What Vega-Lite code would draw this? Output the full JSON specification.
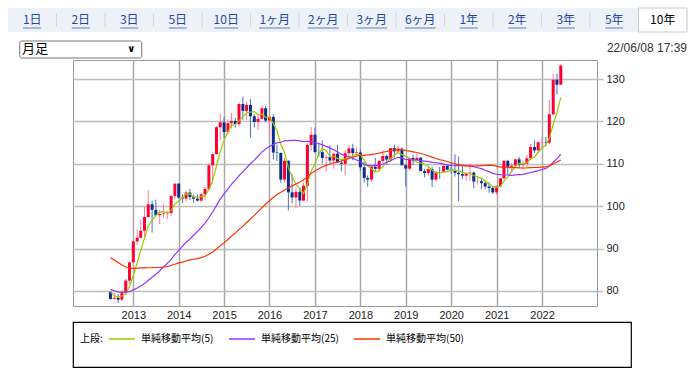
{
  "$schema": "https://vega.github.io/schema/vega-lite/v6.json",
  "padding": {"left": 7, "top": 7, "right": 0, "bottom": 0},
  "spacing": 0,
  "config": {
    "font": "Liberation Sans",
    "view": {"stroke": null}
  },
  "datasets": {
    "tabs": [
      {"tab": "1日"}, {"tab": "2日"}, {"tab": "3日"}, {"tab": "5日"}, {"tab": "10日"},
      {"tab": "1ヶ月"}, {"tab": "2ヶ月"}, {"tab": "3ヶ月"}, {"tab": "6ヶ月"},
      {"tab": "1年"}, {"tab": "2年"}, {"tab": "3年"}, {"tab": "5年"}, {"tab": "10年", "sel": true}
    ],
    "fx": [
      {"date": "2012-07-01", "open": 79.77, "high": 79.95, "low": 77.94, "close": 78.12, "ma5": 79.79, "ma25": 80.36, "ma50": 87.85},
      {"date": "2012-08-01", "open": 78.12, "high": 79.66, "low": 78.05, "close": 78.38, "ma5": 78.90, "ma25": 80.04, "ma50": 87.29},
      {"date": "2012-09-01", "open": 78.38, "high": 79.22, "low": 77.13, "close": 77.95, "ma5": 78.52, "ma25": 79.79, "ma50": 86.69},
      {"date": "2012-10-01", "open": 77.95, "high": 80.30, "low": 77.60, "close": 79.77, "ma5": 78.80, "ma25": 79.64, "ma50": 86.11},
      {"date": "2012-11-01", "open": 79.77, "high": 82.84, "low": 79.03, "close": 82.45, "ma5": 79.33, "ma25": 79.72, "ma50": 85.64},
      {"date": "2012-12-01", "open": 82.45, "high": 86.80, "low": 81.70, "close": 86.75, "ma5": 81.06, "ma25": 79.84, "ma50": 85.40},
      {"date": "2013-01-01", "open": 86.75, "high": 91.74, "low": 86.55, "close": 91.70, "ma5": 83.72, "ma25": 80.26, "ma50": 85.33},
      {"date": "2013-02-01", "open": 91.70, "high": 94.46, "low": 90.85, "close": 92.56, "ma5": 86.65, "ma25": 80.68, "ma50": 85.37},
      {"date": "2013-03-01", "open": 92.56, "high": 96.71, "low": 92.40, "close": 94.22, "ma5": 89.54, "ma25": 81.18, "ma50": 85.45},
      {"date": "2013-04-01", "open": 94.22, "high": 99.89, "low": 92.57, "close": 97.45, "ma5": 92.54, "ma25": 81.75, "ma50": 85.45},
      {"date": "2013-05-01", "open": 97.45, "high": 103.74, "low": 97.30, "close": 100.45, "ma5": 95.28, "ma25": 82.52, "ma50": 85.48},
      {"date": "2013-06-01", "open": 100.45, "high": 101.29, "low": 93.79, "close": 99.14, "ma5": 96.76, "ma25": 83.22, "ma50": 85.49},
      {"date": "2013-07-01", "open": 99.14, "high": 101.53, "low": 97.60, "close": 97.87, "ma5": 97.83, "ma25": 83.92, "ma50": 85.54},
      {"date": "2013-08-01", "open": 97.87, "high": 99.14, "low": 95.81, "close": 98.14, "ma5": 98.61, "ma25": 84.77, "ma50": 85.58},
      {"date": "2013-09-01", "open": 98.14, "high": 100.61, "low": 97.21, "close": 98.26, "ma5": 98.77, "ma25": 85.64, "ma50": 85.65},
      {"date": "2013-10-01", "open": 98.26, "high": 99.00, "low": 96.94, "close": 98.37, "ma5": 98.36, "ma25": 86.49, "ma50": 85.76},
      {"date": "2013-11-01", "open": 98.37, "high": 102.57, "low": 97.62, "close": 102.43, "ma5": 99.01, "ma25": 87.46, "ma50": 86.01},
      {"date": "2013-12-01", "open": 102.43, "high": 105.41, "low": 101.63, "close": 105.31, "ma5": 100.50, "ma25": 88.57, "ma50": 86.31},
      {"date": "2014-01-01", "open": 105.31, "high": 105.44, "low": 101.77, "close": 102.04, "ma5": 101.28, "ma25": 89.58, "ma50": 86.63},
      {"date": "2014-02-01", "open": 102.04, "high": 102.83, "low": 100.76, "close": 101.80, "ma5": 101.99, "ma25": 90.60, "ma50": 86.80},
      {"date": "2014-03-01", "open": 101.80, "high": 103.76, "low": 101.20, "close": 103.23, "ma5": 102.96, "ma25": 91.49, "ma50": 87.06},
      {"date": "2014-04-01", "open": 103.23, "high": 104.13, "low": 101.43, "close": 102.16, "ma5": 102.91, "ma25": 92.26, "ma50": 87.33},
      {"date": "2014-05-01", "open": 102.16, "high": 102.75, "low": 100.82, "close": 101.77, "ma5": 102.20, "ma25": 93.14, "ma50": 87.49},
      {"date": "2014-06-01", "open": 101.77, "high": 102.80, "low": 101.07, "close": 101.32, "ma5": 102.06, "ma25": 94.06, "ma50": 87.64},
      {"date": "2014-07-01", "open": 101.32, "high": 103.15, "low": 101.07, "close": 102.80, "ma5": 102.26, "ma25": 94.98, "ma50": 87.87},
      {"date": "2014-08-01", "open": 102.80, "high": 104.49, "low": 101.51, "close": 104.07, "ma5": 102.42, "ma25": 96.01, "ma50": 88.19},
      {"date": "2014-09-01", "open": 104.07, "high": 110.09, "low": 103.76, "close": 109.65, "ma5": 103.92, "ma25": 97.27, "ma50": 88.65},
      {"date": "2014-10-01", "open": 109.65, "high": 112.47, "low": 105.23, "close": 112.30, "ma5": 106.03, "ma25": 98.64, "ma50": 89.21},
      {"date": "2014-11-01", "open": 112.30, "high": 118.98, "low": 112.20, "close": 118.64, "ma5": 109.49, "ma25": 100.19, "ma50": 89.92},
      {"date": "2014-12-01", "open": 118.64, "high": 121.86, "low": 115.57, "close": 119.78, "ma5": 112.89, "ma25": 101.69, "ma50": 90.70},
      {"date": "2015-01-01", "open": 119.78, "high": 121.00, "low": 115.85, "close": 117.49, "ma5": 115.57, "ma25": 102.92, "ma50": 91.38},
      {"date": "2015-02-01", "open": 117.49, "high": 120.48, "low": 116.86, "close": 119.59, "ma5": 117.56, "ma25": 104.03, "ma50": 92.15},
      {"date": "2015-03-01", "open": 119.59, "high": 122.03, "low": 118.33, "close": 120.13, "ma5": 119.13, "ma25": 105.14, "ma50": 92.91},
      {"date": "2015-04-01", "open": 120.13, "high": 120.84, "low": 118.54, "close": 119.37, "ma5": 119.27, "ma25": 106.14, "ma50": 93.66},
      {"date": "2015-05-01", "open": 119.37, "high": 124.46, "low": 118.88, "close": 124.11, "ma5": 120.14, "ma25": 107.21, "ma50": 94.48},
      {"date": "2015-06-01", "open": 124.11, "high": 125.86, "low": 120.41, "close": 122.49, "ma5": 121.14, "ma25": 108.09, "ma50": 95.30},
      {"date": "2015-07-01", "open": 122.49, "high": 124.58, "low": 120.41, "close": 123.91, "ma5": 122.00, "ma25": 109.08, "ma50": 96.15},
      {"date": "2015-08-01", "open": 123.91, "high": 125.28, "low": 116.18, "close": 121.21, "ma5": 122.22, "ma25": 110.01, "ma50": 96.97},
      {"date": "2015-09-01", "open": 121.21, "high": 121.75, "low": 118.60, "close": 119.88, "ma5": 122.32, "ma25": 110.88, "ma50": 97.83},
      {"date": "2015-10-01", "open": 119.88, "high": 121.49, "low": 118.07, "close": 120.61, "ma5": 121.62, "ma25": 111.78, "ma50": 98.71},
      {"date": "2015-11-01", "open": 120.61, "high": 123.76, "low": 120.39, "close": 123.11, "ma5": 121.74, "ma25": 112.77, "ma50": 99.63},
      {"date": "2015-12-01", "open": 123.11, "high": 123.67, "low": 119.89, "close": 120.21, "ma5": 121.00, "ma25": 113.48, "ma50": 100.47},
      {"date": "2016-01-01", "open": 120.21, "high": 121.69, "low": 115.97, "close": 121.09, "ma5": 120.98, "ma25": 114.11, "ma50": 101.34},
      {"date": "2016-02-01", "open": 121.09, "high": 121.68, "low": 110.99, "close": 112.66, "ma5": 119.54, "ma25": 114.53, "ma50": 102.06},
      {"date": "2016-03-01", "open": 112.66, "high": 114.55, "low": 110.67, "close": 112.56, "ma5": 117.93, "ma25": 114.96, "ma50": 102.78},
      {"date": "2016-04-01", "open": 112.56, "high": 112.68, "low": 105.55, "close": 106.28, "ma5": 114.56, "ma25": 115.09, "ma50": 103.29},
      {"date": "2016-05-01", "open": 106.28, "high": 111.45, "low": 105.53, "close": 110.70, "ma5": 112.66, "ma25": 115.43, "ma50": 103.84},
      {"date": "2016-06-01", "open": 110.70, "high": 110.84, "low": 99.02, "close": 103.27, "ma5": 109.09, "ma25": 115.49, "ma50": 104.31},
      {"date": "2016-07-01", "open": 103.27, "high": 107.49, "low": 100.68, "close": 102.06, "ma5": 106.97, "ma25": 115.52, "ma50": 104.79},
      {"date": "2016-08-01", "open": 102.06, "high": 104.32, "low": 99.54, "close": 103.40, "ma5": 105.14, "ma25": 115.54, "ma50": 105.26},
      {"date": "2016-09-01", "open": 103.40, "high": 104.32, "low": 100.09, "close": 101.34, "ma5": 104.15, "ma25": 115.43, "ma50": 105.72},
      {"date": "2016-10-01", "open": 101.34, "high": 105.53, "low": 101.21, "close": 104.82, "ma5": 102.98, "ma25": 115.24, "ma50": 106.25},
      {"date": "2016-11-01", "open": 104.82, "high": 114.83, "low": 101.19, "close": 114.45, "ma5": 105.21, "ma25": 115.33, "ma50": 106.98},
      {"date": "2016-12-01", "open": 114.45, "high": 118.66, "low": 113.11, "close": 116.87, "ma5": 108.18, "ma25": 115.25, "ma50": 107.73},
      {"date": "2017-01-01", "open": 116.87, "high": 118.60, "low": 112.52, "close": 112.79, "ma5": 110.05, "ma25": 114.98, "ma50": 108.33},
      {"date": "2017-02-01", "open": 112.79, "high": 114.95, "low": 111.59, "close": 112.77, "ma5": 112.34, "ma25": 114.79, "ma50": 108.85},
      {"date": "2017-03-01", "open": 112.77, "high": 115.51, "low": 110.10, "close": 111.39, "ma5": 113.65, "ma25": 114.46, "ma50": 109.25},
      {"date": "2017-04-01", "open": 111.39, "high": 112.20, "low": 108.13, "close": 111.53, "ma5": 113.07, "ma25": 114.11, "ma50": 109.63},
      {"date": "2017-05-01", "open": 111.53, "high": 114.37, "low": 110.24, "close": 110.78, "ma5": 111.85, "ma25": 113.77, "ma50": 109.96},
      {"date": "2017-06-01", "open": 110.78, "high": 112.47, "low": 108.82, "close": 112.38, "ma5": 111.77, "ma25": 113.30, "ma50": 110.26},
      {"date": "2017-07-01", "open": 112.38, "high": 114.49, "low": 110.62, "close": 110.26, "ma5": 111.27, "ma25": 112.81, "ma50": 110.45},
      {"date": "2017-08-01", "open": 110.26, "high": 111.05, "low": 108.27, "close": 109.99, "ma5": 110.99, "ma25": 112.26, "ma50": 110.67},
      {"date": "2017-09-01", "open": 109.99, "high": 113.26, "low": 107.32, "close": 112.51, "ma5": 111.18, "ma25": 111.91, "ma50": 110.96},
      {"date": "2017-10-01", "open": 112.51, "high": 114.45, "low": 111.65, "close": 113.64, "ma5": 111.76, "ma25": 111.66, "ma50": 111.27},
      {"date": "2017-11-01", "open": 113.64, "high": 114.73, "low": 110.84, "close": 112.53, "ma5": 111.79, "ma25": 111.33, "ma50": 111.56},
      {"date": "2017-12-01", "open": 112.53, "high": 113.75, "low": 111.89, "close": 112.69, "ma5": 112.27, "ma25": 110.92, "ma50": 111.84},
      {"date": "2018-01-01", "open": 112.69, "high": 113.39, "low": 108.28, "close": 109.19, "ma5": 112.11, "ma25": 110.48, "ma50": 111.98},
      {"date": "2018-02-01", "open": 109.19, "high": 110.48, "low": 105.55, "close": 106.68, "ma5": 110.95, "ma25": 109.90, "ma50": 112.01},
      {"date": "2018-03-01", "open": 106.68, "high": 107.29, "low": 104.63, "close": 106.28, "ma5": 109.47, "ma25": 109.65, "ma50": 112.09},
      {"date": "2018-04-01", "open": 106.28, "high": 109.55, "low": 105.66, "close": 109.33, "ma5": 108.83, "ma25": 109.52, "ma50": 112.24},
      {"date": "2018-05-01", "open": 109.33, "high": 111.40, "low": 108.11, "close": 108.82, "ma5": 108.06, "ma25": 109.62, "ma50": 112.35},
      {"date": "2018-06-01", "open": 108.82, "high": 110.90, "low": 108.12, "close": 110.68, "ma5": 108.36, "ma25": 109.62, "ma50": 112.52},
      {"date": "2018-07-01", "open": 110.68, "high": 113.18, "low": 110.28, "close": 111.86, "ma5": 109.39, "ma25": 109.96, "ma50": 112.73},
      {"date": "2018-08-01", "open": 111.86, "high": 112.15, "low": 109.77, "close": 111.02, "ma5": 110.34, "ma25": 110.32, "ma50": 112.92},
      {"date": "2018-09-01", "open": 111.02, "high": 113.76, "low": 110.38, "close": 113.70, "ma5": 111.22, "ma25": 110.73, "ma50": 113.14},
      {"date": "2018-10-01", "open": 113.70, "high": 114.55, "low": 111.38, "close": 112.94, "ma5": 112.04, "ma25": 111.20, "ma50": 113.31},
      {"date": "2018-11-01", "open": 112.94, "high": 114.22, "low": 112.31, "close": 113.56, "ma5": 112.62, "ma25": 111.54, "ma50": 113.39},
      {"date": "2018-12-01", "open": 113.56, "high": 113.83, "low": 109.55, "close": 109.69, "ma5": 112.18, "ma25": 111.35, "ma50": 113.34},
      {"date": "2019-01-01", "open": 109.69, "high": 110.00, "low": 104.69, "close": 108.87, "ma5": 111.75, "ma25": 111.03, "ma50": 113.15},
      {"date": "2019-02-01", "open": 108.87, "high": 111.49, "low": 108.50, "close": 111.38, "ma5": 111.29, "ma25": 110.98, "ma50": 112.98},
      {"date": "2019-03-01", "open": 111.38, "high": 112.14, "low": 109.71, "close": 110.85, "ma5": 110.87, "ma25": 110.90, "ma50": 112.84},
      {"date": "2019-04-01", "open": 110.85, "high": 112.40, "low": 110.83, "close": 111.42, "ma5": 110.44, "ma25": 110.90, "ma50": 112.68},
      {"date": "2019-05-01", "open": 111.42, "high": 111.69, "low": 108.25, "close": 108.27, "ma5": 110.16, "ma25": 110.77, "ma50": 112.44},
      {"date": "2019-06-01", "open": 108.27, "high": 108.80, "low": 106.78, "close": 107.84, "ma5": 109.95, "ma25": 110.65, "ma50": 112.21},
      {"date": "2019-07-01", "open": 107.84, "high": 109.32, "low": 107.21, "close": 108.74, "ma5": 109.42, "ma25": 110.51, "ma50": 111.91},
      {"date": "2019-08-01", "open": 108.74, "high": 109.32, "low": 104.45, "close": 106.28, "ma5": 108.51, "ma25": 110.35, "ma50": 111.58},
      {"date": "2019-09-01", "open": 106.28, "high": 108.48, "low": 105.73, "close": 108.07, "ma5": 107.84, "ma25": 110.27, "ma50": 111.26},
      {"date": "2019-10-01", "open": 108.07, "high": 109.29, "low": 106.48, "close": 108.02, "ma5": 107.79, "ma25": 110.09, "ma50": 111.00},
      {"date": "2019-11-01", "open": 108.02, "high": 109.73, "low": 107.89, "close": 109.49, "ma5": 108.12, "ma25": 109.93, "ma50": 110.79},
      {"date": "2019-12-01", "open": 109.49, "high": 109.70, "low": 108.43, "close": 108.61, "ma5": 108.09, "ma25": 109.77, "ma50": 110.55},
      {"date": "2020-01-01", "open": 108.61, "high": 110.29, "low": 107.65, "close": 108.35, "ma5": 108.51, "ma25": 109.60, "ma50": 110.26},
      {"date": "2020-02-01", "open": 108.35, "high": 112.23, "low": 107.00, "close": 107.89, "ma5": 108.47, "ma25": 109.54, "ma50": 110.01},
      {"date": "2020-03-01", "open": 107.89, "high": 111.71, "low": 101.18, "close": 107.54, "ma5": 108.38, "ma25": 109.58, "ma50": 109.74},
      {"date": "2020-04-01", "open": 107.54, "high": 109.38, "low": 106.36, "close": 107.19, "ma5": 107.92, "ma25": 109.62, "ma50": 109.63},
      {"date": "2020-05-01", "open": 107.19, "high": 108.08, "low": 105.98, "close": 107.77, "ma5": 107.75, "ma25": 109.55, "ma50": 109.54},
      {"date": "2020-06-01", "open": 107.77, "high": 109.85, "low": 106.07, "close": 107.93, "ma5": 107.66, "ma25": 109.52, "ma50": 109.57},
      {"date": "2020-07-01", "open": 107.93, "high": 108.16, "low": 104.19, "close": 105.83, "ma5": 107.25, "ma25": 109.32, "ma50": 109.47},
      {"date": "2020-08-01", "open": 105.83, "high": 107.05, "low": 105.10, "close": 105.89, "ma5": 106.92, "ma25": 109.08, "ma50": 109.52},
      {"date": "2020-09-01", "open": 105.89, "high": 106.55, "low": 104.00, "close": 105.45, "ma5": 106.57, "ma25": 108.86, "ma50": 109.59},
      {"date": "2020-10-01", "open": 105.45, "high": 106.11, "low": 104.02, "close": 104.65, "ma5": 105.95, "ma25": 108.50, "ma50": 109.62},
      {"date": "2020-11-01", "open": 104.65, "high": 105.68, "low": 103.18, "close": 104.30, "ma5": 105.22, "ma25": 108.15, "ma50": 109.68},
      {"date": "2020-12-01", "open": 104.30, "high": 104.76, "low": 102.88, "close": 103.25, "ma5": 104.71, "ma25": 107.74, "ma50": 109.64},
      {"date": "2021-01-01", "open": 103.25, "high": 104.94, "low": 102.59, "close": 104.67, "ma5": 104.46, "ma25": 107.54, "ma50": 109.45},
      {"date": "2021-02-01", "open": 104.67, "high": 106.69, "low": 104.41, "close": 106.58, "ma5": 104.69, "ma25": 107.45, "ma50": 109.24},
      {"date": "2021-03-01", "open": 106.58, "high": 110.97, "low": 106.37, "close": 110.72, "ma5": 105.90, "ma25": 107.42, "ma50": 109.20},
      {"date": "2021-04-01", "open": 110.72, "high": 110.96, "low": 107.48, "close": 109.31, "ma5": 106.91, "ma25": 107.36, "ma50": 109.13},
      {"date": "2021-05-01", "open": 109.31, "high": 110.20, "low": 108.34, "close": 109.58, "ma5": 108.17, "ma25": 107.29, "ma50": 109.10},
      {"date": "2021-06-01", "open": 109.58, "high": 111.11, "low": 109.19, "close": 111.06, "ma5": 109.45, "ma25": 107.40, "ma50": 109.09},
      {"date": "2021-07-01", "open": 111.06, "high": 111.66, "low": 109.06, "close": 109.71, "ma5": 110.08, "ma25": 107.47, "ma50": 109.06},
      {"date": "2021-08-01", "open": 109.71, "high": 110.80, "low": 108.72, "close": 110.01, "ma5": 109.93, "ma25": 107.53, "ma50": 109.02},
      {"date": "2021-09-01", "open": 110.01, "high": 112.08, "low": 109.11, "close": 111.29, "ma5": 110.33, "ma25": 107.73, "ma50": 109.04},
      {"date": "2021-10-01", "open": 111.29, "high": 114.70, "low": 110.82, "close": 113.95, "ma5": 111.20, "ma25": 107.96, "ma50": 109.12},
      {"date": "2021-11-01", "open": 113.95, "high": 115.52, "low": 112.53, "close": 113.16, "ma5": 111.62, "ma25": 108.17, "ma50": 109.13},
      {"date": "2021-12-01", "open": 113.16, "high": 115.38, "low": 112.55, "close": 115.08, "ma5": 112.70, "ma25": 108.39, "ma50": 109.16},
      {"date": "2022-01-01", "open": 115.08, "high": 116.35, "low": 113.47, "close": 115.12, "ma5": 113.72, "ma25": 108.65, "ma50": 109.21},
      {"date": "2022-02-01", "open": 115.12, "high": 116.34, "low": 114.16, "close": 114.99, "ma5": 114.46, "ma25": 108.92, "ma50": 109.26},
      {"date": "2022-03-01", "open": 114.99, "high": 125.09, "low": 114.64, "close": 121.70, "ma5": 116.01, "ma25": 109.47, "ma50": 109.51},
      {"date": "2022-04-01", "open": 121.70, "high": 131.25, "low": 121.28, "close": 129.83, "ma5": 119.34, "ma25": 110.36, "ma50": 109.97},
      {"date": "2022-05-01", "open": 129.83, "high": 131.34, "low": 126.36, "close": 128.67, "ma5": 122.06, "ma25": 111.22, "ma50": 110.42},
      {"date": "2022-06-01", "open": 128.67, "high": 133.40, "low": 128.64, "close": 133.20, "ma5": 125.68, "ma25": 112.24, "ma50": 110.90}
    ]
  },
  "vconcat": [
    {
      "width": 614,
      "height": 48,
      "data": {"name": "tabs"},
      "layer": [
        {
          "mark": {"type": "bar", "strokeWidth": 1},
          "encoding": {
            "x": {"field": "tab", "type": "nominal", "sort": null, "scale": {"type": "band", "range": [-65, 614], "paddingInner": 0, "paddingOuter": 0}, "axis": null},
            "y": {"datum": "tabs", "type": "nominal", "scale": {"type": "band", "domain": ["tabs", "ctrl"], "paddingInner": 0, "paddingOuter": 0}, "axis": null},
            "color": {"condition": {"test": "datum.sel", "value": "#ffffff"}, "value": "#eef1f8"},
            "stroke": {"condition": {"test": "datum.sel", "value": "#c4c9d2"}, "value": "transparent"}
          }
        },
        {
          "transform": [{"filter": "datum.tab != '1日' && !datum.sel"}],
          "mark": {"type": "tick", "orient": "vertical", "size": 14, "thickness": 1, "color": "#c9cdd6"},
          "encoding": {
            "x": {"field": "tab", "type": "nominal", "sort": null, "bandPosition": 0},
            "y": {"datum": "tabs", "type": "nominal"}
          }
        },
        {
          "mark": {"type": "text", "font": "Noto Sans CJK JP", "fontSize": 12},
          "encoding": {
            "x": {"field": "tab", "type": "nominal", "sort": null},
            "y": {"datum": "tabs", "type": "nominal"},
            "text": {"field": "tab"},
            "color": {"condition": {"test": "datum.sel", "value": "#000000"}, "value": "#1d4aa6"},
            "fontWeight": {"condition": {"test": "datum.sel", "value": "bold"}, "value": "normal"}
          }
        },
        {
          "transform": [{"filter": "!datum.sel"}],
          "mark": {"type": "tick", "orient": "horizontal", "thickness": 1, "color": "#1d4aa6", "yOffset": 8},
          "encoding": {
            "x": {"field": "tab", "type": "nominal", "sort": null},
            "y": {"datum": "tabs", "type": "nominal"},
            "size": {"condition": [{"test": "indexof(datum.tab, 'ヶ') >= 0", "value": 31}, {"test": "length(datum.tab) == 3", "value": 24}], "value": 18}
          }
        },
        {
          "data": {"values": [{"tab": "2日"}]},
          "mark": {"type": "bar", "width": 122, "height": 17, "fill": "#ffffff", "stroke": "#767676", "strokeWidth": 1, "cornerRadius": 2, "yOffset": 5.5},
          "encoding": {
            "x": {"field": "tab", "type": "nominal", "sort": null},
            "y": {"datum": "ctrl", "type": "nominal"}
          }
        },
        {
          "data": {"values": [{"tab": "1日", "label": "月足"}]},
          "mark": {"type": "text", "align": "left", "font": "Noto Sans CJK JP", "fontSize": 13, "dx": 14, "dy": 5, "color": "#000000"},
          "encoding": {
            "x": {"field": "tab", "type": "nominal", "sort": null, "bandPosition": 0},
            "y": {"datum": "ctrl", "type": "nominal"},
            "text": {"field": "label"}
          }
        },
        {
          "data": {"values": [{"tab": "3日", "label": "∨"}]},
          "mark": {"type": "text", "font": "DejaVu Sans", "fontWeight": "bold", "fontSize": 10, "dx": 2, "dy": 5, "color": "#000000"},
          "encoding": {
            "x": {"field": "tab", "type": "nominal", "sort": null},
            "y": {"datum": "ctrl", "type": "nominal"},
            "text": {"field": "label"}
          }
        },
        {
          "data": {"values": [{"tab": "10年", "label": "22/06/08 17:39"}]},
          "mark": {"type": "text", "align": "right", "font": "Liberation Sans", "fontSize": 12, "dy": 4, "color": "#333333"},
          "encoding": {
            "x": {"field": "tab", "type": "nominal", "sort": null, "bandPosition": 1},
            "y": {"datum": "ctrl", "type": "nominal"},
            "text": {"field": "label"}
          }
        }
      ]
    },
    {
      "width": 524,
      "height": 246,
      "view": {"stroke": "#9a9a9a", "strokeWidth": 1},
      "data": {"name": "fx"},
      "encoding": {
        "x": {
          "field": "date", "type": "temporal",
          "scale": {"type": "utc", "domain": ["2011-10-14", "2023-02-07"]},
          "axis": {
            "title": null, "format": "%Y",
            "values": [{"year": 2013, "utc": true}, {"year": 2014, "utc": true}, {"year": 2015, "utc": true}, {"year": 2016, "utc": true}, {"year": 2017, "utc": true}, {"year": 2018, "utc": true}, {"year": 2019, "utc": true}, {"year": 2020, "utc": true}, {"year": 2021, "utc": true}, {"year": 2022, "utc": true}],
            "grid": true, "gridColor": "#a8a8a8", "gridWidth": 1.5,
            "ticks": false, "domain": false,
            "labelFont": "Liberation Sans", "labelFontSize": 11, "labelColor": "#222222", "labelPadding": 3,
            "labelFlush": false, "labelOverlap": false,
            "minExtent": 14, "maxExtent": 14
          }
        }
      },
      "layer": [
        {
          "mark": {"type": "rule", "strokeWidth": 1},
          "encoding": {
            "y": {
              "field": "low", "type": "quantitative",
              "scale": {"domain": [76.45, 134.5], "nice": false, "zero": false},
              "axis": {
                "orient": "right", "title": null, "values": [80, 90, 100, 110, 120, 130],
                "domain": false, "tickSize": 6, "tickColor": "#bdbdbd", "tickWidth": 1.5,
                "grid": true, "gridColor": "#bdbdbd", "gridWidth": 1.5,
                "labelFont": "Liberation Sans", "labelFontSize": 11, "labelColor": "#222222", "labelPadding": 3
              }
            },
            "y2": {"field": "high"},
            "color": {"condition": {"test": "datum.close >= datum.open", "value": "#ff7b96"}, "value": "#4f6fc4"}
          }
        },
        {
          "mark": {"type": "bar", "width": 3},
          "encoding": {
            "y": {"field": "open", "type": "quantitative", "axis": null},
            "y2": {"field": "close"},
            "color": {"condition": {"test": "datum.close >= datum.open", "value": "#ff0033"}, "value": "#0a2c8c"}
          }
        },
        {
          "transform": [{"fold": ["ma5", "ma25", "ma50"], "as": ["series", "value"]}],
          "mark": {"type": "line", "strokeWidth": 1.2},
          "encoding": {
            "y": {"field": "value", "type": "quantitative", "axis": null},
            "stroke": {
              "field": "series", "type": "nominal",
              "scale": {"domain": ["ma5", "ma25", "ma50"], "range": ["#99cc00", "#9933ff", "#ff3300"]},
              "legend": {
                "orient": "none", "legendX": 35, "legendY": 317,
                "direction": "horizontal", "title": null,
                "gridAlign": "none",
                "symbolType": "stroke", "symbolSize": 676, "symbolStrokeWidth": 1.5,
                "labelExpr": "{'ma5': '単純移動平均(5)', 'ma25': '単純移動平均(25)', 'ma50': '単純移動平均(50)'}[datum.label]",
                "labelFont": "Noto Sans CJK JP", "labelFontSize": 10, "labelColor": "#000000",
                "columnPadding": 12, "labelOffset": 5
              }
            }
          }
        }
      ],
      "resolve": {"axis": {"y": "independent"}}
    },
    {
      "width": 558,
      "height": 45,
      "view": {"stroke": "#000000", "strokeWidth": 1.2},
      "data": {"values": [{"label": "上段:"}]},
      "mark": {"type": "text", "align": "left", "font": "Noto Sans CJK JP", "fontSize": 10, "color": "#000000", "dx": 7, "dy": -6},
      "encoding": {
        "x": {"datum": 0, "type": "quantitative", "scale": {"domain": [0, 1]}, "axis": null},
        "text": {"field": "label"}
      }
    }
  ]
}
